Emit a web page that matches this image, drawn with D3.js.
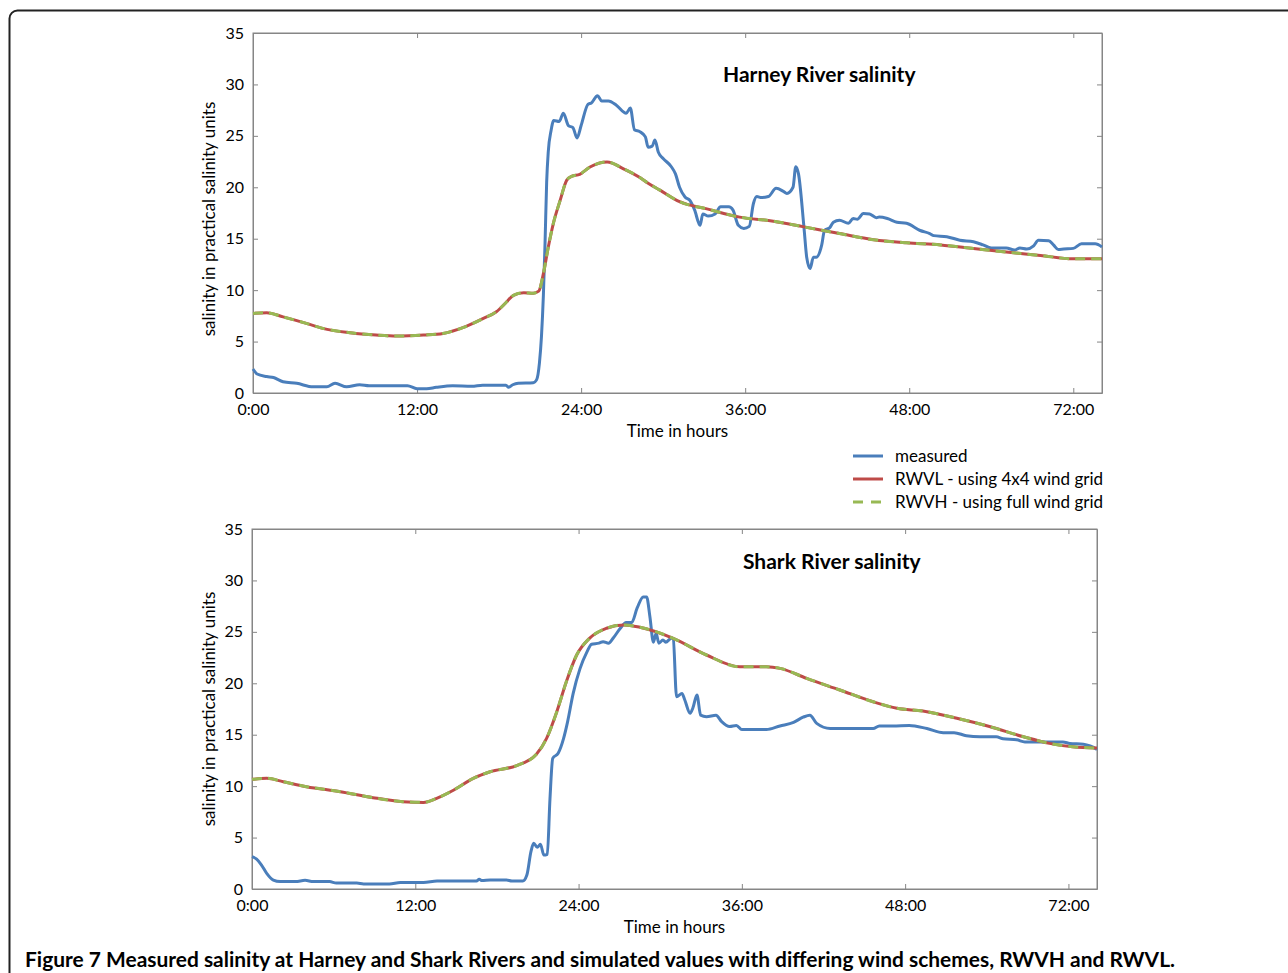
<!DOCTYPE html>
<html>
<head>
<meta charset="utf-8">
<script src="https://cdn.jsdelivr.net/npm/d3@7"></script>
<style>
  body { margin: 0; background: #fff; }
  svg { display: block; }
  text { font-family: Lato, "Open Sans", sans-serif; fill: #000; }
</style>
</head>
<body>
<div class="container"></div>
<script>
// tick labels of the time axis (the last one is labelled 72:00 in the original)
const hourTicks = [0, 12, 24, 36, 48, 60]
const hourLabels = ["0:00", "12:00", "24:00", "36:00", "48:00", "72:00"]
const salinityTicks = [0, 5, 10, 15, 20, 25, 30, 35]

const seriesNames = ["measured", "RWVL - using 4x4 wind grid", "RWVH - using full wind grid"]

// [hour, salinity]
const harneyMeasured = [[0,2.33],[0.3,1.85],[1.0,1.6],[1.5,1.5],[2.2,1.1],[3.2,0.94],[4.4,0.6],[5.4,0.6],[6.0,0.94],[6.85,0.6],[7.8,0.8],[8.5,0.7],[11.3,0.7],[12.0,0.42],[12.7,0.42],[13.4,0.55],[14.6,0.7],[16.0,0.65],[16.8,0.75],[18.5,0.75],[18.7,0.55],[19.0,0.8],[19.4,0.95],[20.5,1.0],[20.75,1.3],[20.95,2.9],[21.1,5.5],[21.24,9.5],[21.36,14.5],[21.48,20.5],[21.6,23.5],[21.8,25.5],[22.0,26.5],[22.4,26.4],[22.7,27.2],[23.07,26.0],[23.4,25.8],[23.7,24.8],[24.0,26.0],[24.5,28.06],[24.75,28.2],[25.2,28.9],[25.5,28.4],[26.0,28.4],[26.6,27.96],[27.3,27.2],[27.6,27.7],[27.9,25.6],[28.3,25.4],[28.7,24.9],[28.9,23.9],[29.2,24.0],[29.4,24.6],[29.65,23.4],[30.0,22.8],[30.6,22.0],[30.9,21.3],[31.2,20.0],[31.6,19.06],[31.97,18.7],[32.3,17.8],[32.7,16.3],[32.9,17.4],[33.3,17.2],[33.8,17.4],[34.2,18.1],[34.8,18.1],[35.1,17.8],[35.5,16.3],[35.9,16.0],[36.3,16.2],[36.6,18.4],[36.85,19.1],[37.2,19.0],[37.7,19.1],[38.26,19.9],[38.8,19.6],[39.05,19.4],[39.5,20.0],[39.7,22.0],[39.9,21.3],[40.3,16.1],[40.5,13.2],[40.75,12.1],[40.99,13.2],[41.2,13.2],[41.6,14.4],[41.8,15.8],[42.2,16.1],[42.45,16.6],[42.9,16.8],[43.55,16.5],[43.9,16.96],[44.2,16.9],[44.65,17.45],[45.1,17.4],[45.6,17.05],[45.8,17.1],[46.4,16.96],[47.1,16.6],[47.8,16.5],[48.8,15.8],[49.5,15.5],[49.8,15.3],[50.75,15.2],[51.7,14.85],[52.7,14.7],[53.4,14.4],[54.0,14.1],[55.1,14.1],[55.7,13.9],[56.1,14.1],[56.6,14.0],[57.1,14.3],[57.45,14.85],[58.2,14.8],[58.55,14.4],[58.9,13.95],[59.3,14.0],[60.0,14.06],[60.6,14.5],[61.1,14.5],[61.6,14.5],[62.1,14.2]]
const harneyRWVL = [[0,7.74],[1.0,7.8],[2.2,7.4],[3.9,6.77],[5.1,6.28],[7.1,5.86],[9.0,5.63],[10.5,5.53],[12.46,5.63],[13.9,5.79],[15.4,6.38],[16.85,7.25],[17.8,7.9],[18.56,8.87],[19.05,9.5],[19.8,9.74],[20.5,9.7],[20.9,9.9],[21.24,11.6],[21.6,14.2],[21.97,16.5],[22.46,18.7],[22.95,20.7],[23.3,21.07],[23.9,21.26],[24.65,21.97],[25.9,22.46],[27.1,21.8],[28.3,20.95],[28.9,20.4],[29.8,19.7],[31.2,18.6],[33.2,17.9],[35.6,17.1],[38.06,16.7],[40.3,16.15],[42.9,15.5],[45.4,14.9],[47.8,14.6],[50.3,14.4],[52.7,14.05],[55.1,13.7],[57.6,13.37],[60,13.04],[62.1,13.04]]
const harneyRWVH = harneyRWVL.map(d => [d[0], d[1]])

const sharkMeasured = [[0,3.14],[0.34,2.9],[0.7,2.33],[1.08,1.52],[1.57,0.87],[2.06,0.72],[3.2,0.72],[3.9,0.84],[4.5,0.72],[5.7,0.72],[6.2,0.58],[7.7,0.58],[8.2,0.49],[10.1,0.49],[10.9,0.64],[12.6,0.64],[13.6,0.78],[16.5,0.78],[16.7,0.94],[16.9,0.82],[17.5,0.88],[18.7,0.88],[19.1,0.78],[19.9,0.78],[20.2,1.36],[20.5,3.63],[20.7,4.44],[20.96,4.05],[21.2,4.34],[21.45,3.3],[21.7,3.37],[21.9,8.8],[22.1,12.7],[22.5,13.2],[22.9,14.65],[23.2,16.3],[23.6,19.0],[24.1,21.4],[24.6,23.0],[24.96,23.8],[25.5,23.9],[25.8,24.05],[26.2,23.9],[26.55,24.4],[27.04,25.3],[27.5,25.9],[27.9,25.9],[28.3,27.3],[28.75,28.4],[29.0,28.4],[29.24,26.5],[29.5,24.0],[29.7,24.86],[29.9,23.9],[30.2,24.2],[30.4,24.0],[30.84,24.4],[30.96,24.3],[31.2,18.7],[31.6,19.0],[31.8,18.4],[32.2,17.08],[32.4,17.6],[32.7,18.86],[32.97,16.9],[33.4,16.75],[34.1,16.9],[34.5,16.3],[35.1,15.8],[35.6,15.9],[36.0,15.5],[37.8,15.5],[38.8,15.85],[39.8,16.2],[40.5,16.7],[41.0,16.9],[41.5,16.1],[42.5,15.6],[45.65,15.6],[46.1,15.85],[47.1,15.85],[48.3,15.9],[49.6,15.6],[50.8,15.2],[51.6,15.2],[52.5,14.9],[53.5,14.8],[54.7,14.8],[55.2,14.6],[56.2,14.5],[56.8,14.3],[59.6,14.3],[60.1,14.15],[61.1,14.07],[61.6,13.9],[62.1,13.58]]
const sharkRWVL = [[0,10.66],[1.08,10.76],[2.3,10.43],[4.0,9.95],[6.5,9.46],[8.9,8.88],[11.1,8.49],[12.6,8.42],[13.57,8.82],[14.8,9.6],[16.26,10.76],[17.5,11.4],[19.45,12.0],[20.9,13.1],[21.65,14.65],[22.4,17.24],[23.1,20.15],[23.86,22.75],[24.8,24.37],[26.06,25.35],[27.3,25.67],[28.5,25.45],[30.96,24.37],[33.4,22.75],[35.86,21.6],[37.8,21.6],[38.8,21.45],[40.76,20.48],[43.2,19.35],[45.65,18.2],[47.4,17.57],[49.3,17.3],[51.8,16.6],[54.2,15.8],[56.7,14.8],[58.6,14.16],[60.3,13.83],[62.1,13.7]]
const sharkRWVH = sharkRWVL.map(d => [d[0], d[1]])

const w = 1288
const h = 973
const blue = "#4a7ebb"
const red = "#be4b48"
const green = "#98b954"
const axisGray = "#868686"

const svg = d3.select(".container")
    .append("svg")
    .attr("width", w)
    .attr("height", h)

// page frame
svg.append("rect")
    .attr("x", 9.5).attr("y", 10.5)
    .attr("width", 1300).attr("height", 1000)
    .attr("rx", 8)
    .attr("fill", "none")
    .attr("stroke", "#222")
    .attr("stroke-width", 2)

function drawPanel(opts) {
    const xScale = d3.scaleLinear().domain([0, 62.1]).range([opts.left, opts.right])
    const yScale = d3.scaleLinear().domain([0, 35]).range([opts.bottom, opts.top])

    const g = svg.append("g")

    g.append("rect")
        .attr("x", opts.left).attr("y", opts.top)
        .attr("width", opts.right - opts.left)
        .attr("height", opts.bottom - opts.top)
        .attr("fill", "none")
        .attr("stroke", axisGray)

    const xAxis = d3.axisBottom(xScale)
        .tickValues(hourTicks)
        .tickFormat((d, i) => hourLabels[i])
        .tickSizeInner(-5).tickSizeOuter(0).tickPadding(11)
    const xTop = d3.axisTop(xScale).tickValues(hourTicks).tickFormat("")
        .tickSizeInner(-5).tickSizeOuter(0)
    const yAxis = d3.axisLeft(yScale)
        .tickValues(salinityTicks)
        .tickSizeInner(-5).tickSizeOuter(0).tickPadding(9)
    const yRight = d3.axisRight(yScale).tickValues(salinityTicks).tickFormat("")
        .tickSizeInner(-5).tickSizeOuter(0)

    const axes = [
        g.append("g").attr("transform", "translate(0," + opts.bottom + ")").call(xAxis),
        g.append("g").attr("transform", "translate(0," + opts.top + ")").call(xTop),
        g.append("g").attr("transform", "translate(" + opts.left + ",0)").call(yAxis),
        g.append("g").attr("transform", "translate(" + opts.right + ",0)").call(yRight)
    ]
    axes.forEach(a => {
        a.select(".domain").attr("stroke", axisGray)
        a.selectAll(".tick line").attr("stroke", axisGray)
        a.selectAll(".tick text").attr("font-size", 16).attr("fill", "#000")
            .attr("font-family", "Lato, sans-serif")
    })

    const line = d3.line()
        .x(d => xScale(d[0]))
        .y(d => yScale(d[1]))
        .curve(d3.curveMonotoneX)

    g.append("path").datum(opts.measured)
        .attr("d", line).attr("fill", "none")
        .attr("stroke", blue).attr("stroke-width", 3)
        .attr("stroke-linejoin", "round")
    g.append("path").datum(opts.rwvl)
        .attr("d", line).attr("fill", "none")
        .attr("stroke", red).attr("stroke-width", 3)
    g.append("path").datum(opts.rwvh)
        .attr("d", line).attr("fill", "none")
        .attr("stroke", green).attr("stroke-width", 3)
        .attr("stroke-dasharray", "10,6")

    g.append("text")
        .attr("x", opts.titleX).attr("y", opts.titleY)
        .attr("font-size", 21).attr("font-weight", "bold")
        .text(opts.title)

    g.append("text")
        .attr("x", (opts.left + opts.right) / 2).attr("y", opts.bottom + 44)
        .attr("text-anchor", "middle").attr("font-size", 17)
        .text("Time in hours")

    g.append("text")
        .attr("transform", "translate(215," + opts.ylabelY + ") rotate(-90)")
        .attr("text-anchor", "middle").attr("font-size", 17)
        .text("salinity in practical salinity units")
}

drawPanel({
    left: 253, right: 1102, top: 33, bottom: 393,
    measured: harneyMeasured, rwvl: harneyRWVL, rwvh: harneyRWVH,
    title: "Harney River salinity", titleX: 723, titleY: 82, ylabelY: 219
})
drawPanel({
    left: 252, right: 1097, top: 529, bottom: 889,
    measured: sharkMeasured, rwvl: sharkRWVL, rwvh: sharkRWVH,
    title: "Shark River salinity", titleX: 743, titleY: 569, ylabelY: 709
})

// legend
const legend = svg.append("g").attr("transform", "translate(853,456)")
const legendStyles = [
    { color: blue, dash: null },
    { color: red, dash: null },
    { color: green, dash: "10,8" }
]
seriesNames.forEach((name, i) => {
    const row = legend.append("g").attr("transform", "translate(0," + (i * 23) + ")")
    row.append("line")
        .attr("x1", 0).attr("x2", 30).attr("y1", 0).attr("y2", 0)
        .attr("stroke", legendStyles[i].color).attr("stroke-width", 3)
        .attr("stroke-dasharray", legendStyles[i].dash)
    row.append("text")
        .attr("x", 42).attr("y", 0).attr("dy", "0.35em")
        .attr("font-size", 17)
        .text(name)
})

// caption
svg.append("text")
    .attr("x", 25).attr("y", 967)
    .attr("font-size", 20).attr("font-weight", "bold")
    .attr("font-family", "'Open Sans', sans-serif")
    .attr("textLength", 1150).attr("lengthAdjust", "spacingAndGlyphs")
    .text("Figure 7 Measured salinity at Harney and Shark Rivers and simulated values with differing wind schemes, RWVH and RWVL.")
</script>
</body>
</html>
